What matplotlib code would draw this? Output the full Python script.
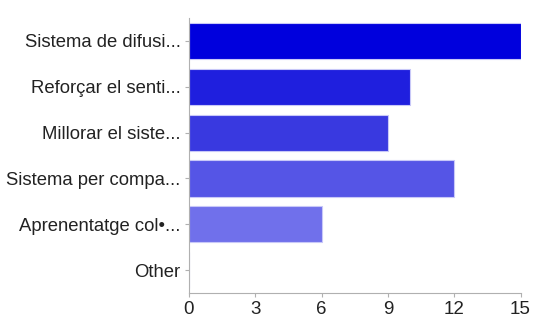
import matplotlib.pyplot as plt

categories = ["Sistema de difusi...", "Reforçar el senti...", "Millorar el siste...",
              "Sistema per compa...", "Aprenentatge col•...", "Other"]
values = [15, 10, 9, 12, 6, 0]
colors = ["#0000dd", "#1f1fde", "#3939e0", "#5555e6", "#7070eb", "#8c8cf0"]
xticks = [0, 3, 6, 9, 12, 15]

plt.rcParams["font.family"] = ["Liberation Sans", "DejaVu Sans"]

fig = plt.figure(figsize=(5.35, 3.23), dpi=100)
ax = fig.add_axes([0.353, 0.093, 0.62, 0.851])

pos = list(range(len(categories)))
ax.barh(pos, values, height=0.79, color=colors, edgecolor="#c8c8f8", linewidth=0.8)
ax.set_yticks(pos)
ax.set_yticklabels(categories, fontsize=13.3, color="#222222")
ax.set_ylim(len(categories) - 0.5, -0.5)
ax.set_xlim(0, 15)
ax.set_xticks(xticks)
ax.set_xticklabels([str(t) for t in xticks], fontsize=13.5, color="#222222")

for s in ["top", "right"]:
    ax.spines[s].set_visible(False)
for s in ["left", "bottom"]:
    ax.spines[s].set_color("#b0b0b0")
ax.tick_params(colors="#b0b0b0", length=3, pad=3, labelcolor="#222222")

plt.savefig("out.png", dpi=100)
